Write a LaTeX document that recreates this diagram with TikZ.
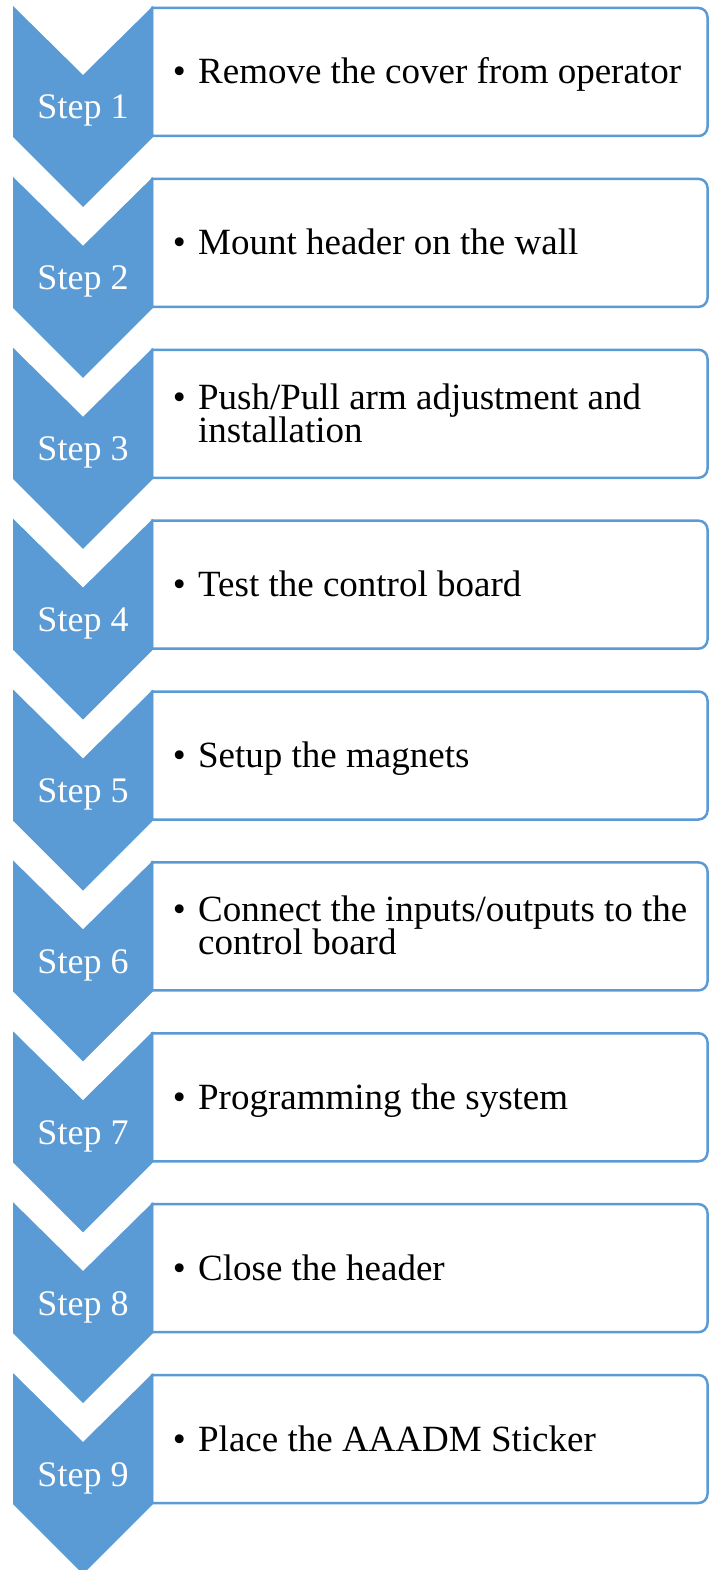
\documentclass[tikz,border=0pt]{standalone}
\usepackage{fontspec}
\setmainfont{Liberation Serif}
\definecolor{sblue}{HTML}{5B9BD5}
\begin{document}
\begin{tikzpicture}[x=1pt,y=-1pt,
  chev/.style={fill=sblue, draw=none},
  stepbox/.style={draw=sblue, line width=2.5pt, fill=white},
  steplabel/.style={text=white, font=\fontsize{36}{36}\selectfont, anchor=base, inner sep=0pt},
  itemtext/.style={font=\fontsize{37}{33}\selectfont, anchor=base west, inner sep=0pt, text=black}]
\useasboundingbox (0,0) rectangle (709,1570);
\foreach \k in {0,...,8}{
  \pgfmathsetmacro\t{6+170.875*\k}
  \pgfmathsetmacro\a{\t+2}
  \pgfmathsetmacro\b{\t+130}
  % box
  \draw[stepbox] (152,\a) -- (698.5,\a) arc[start angle=-90,end angle=0,radius=9]
     -- (707.5,\b-9) arc[start angle=0,end angle=90,radius=9] -- (152,\b) -- cycle;
  % chevron
  \fill[chev] (13,\t) -- (83,\t+69) -- (153,\t) -- (153,\t+131) -- (83,\t+201) -- (13,\t+131) -- cycle;
  \pgfmathtruncatemacro\n{\k+1}
  \node[steplabel] (step\n) at (83,\t+113) {Step \n};
}
\foreach \k/\txt in {0/{Remove the cover from operator},1/{Mount header on the wall},3/{Test the control board},4/{Setup the magnets},6/{Programming the system},7/{Close the header},8/{Place the AAADM Sticker}}{
  \node[itemtext] (item\k) at (172.7,{84+170.875*\k}) {\makebox[25.3pt][l]{\textbullet}\txt};
}
\foreach \k/\la/\lb in {2/{Push/Pull arm adjustment and}/{installation},5/{Connect the inputs/outputs to the}/{control board}}{
  \node[itemtext] (item\k) at (172.7,{84+170.875*\k-16.5})
    {\vtop{\lineskiplimit=-100pt\lineskip=0pt\baselineskip=33pt
      \hbox{\makebox[25.3pt][l]{\textbullet}\la}\hbox{\hspace*{25.3pt}\lb}}};
}
\end{tikzpicture}
\end{document}
